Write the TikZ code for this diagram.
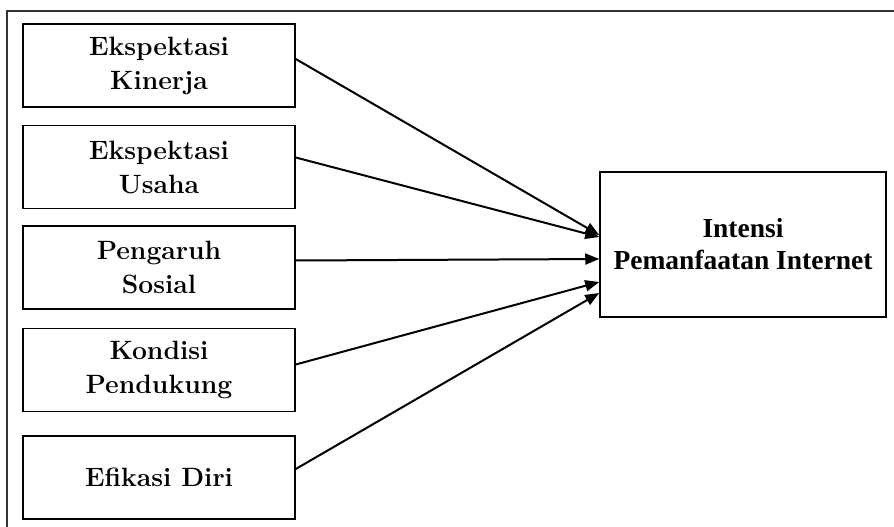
\documentclass[tikz,border=0pt]{standalone}
\usepackage{fontspec}
\newfontfamily\timesfont{Liberation Serif}
\usetikzlibrary{positioning,arrows.meta}

\begin{document}
\begin{tikzpicture}[x=1pt, y=-1pt, >={Triangle[length=14pt,width=11pt]}, line width=1.5pt]

    \tikzset{factor/.style={draw, text=black, align=center, minimum width=272pt, minimum height=83pt,
                            font=\fontsize{26.5}{34}\selectfont\bfseries},
             target/.style={draw, text=black, align=center, minimum width=286pt, minimum height=145pt,
                            font=\timesfont\fontsize{27.5}{32}\selectfont\bfseries},
             link/.style={->, line width=2pt}}

    \useasboundingbox (0,0) rectangle (894,527);
    \draw[line width=2.5pt, black!80] (7,11) rectangle (910,545);

    \node[factor] (EK) at (159,65.5) {Ekspektasi\\Kinerja};
    \node[factor] (EU) [below=17pt of EK] {Ekspektasi\\Usaha};
    \node[factor] (PS) [below=16pt of EU] {Pengaruh\\Sosial};
    \node[factor] (KP) [below=18pt of PS] {Kondisi\\Pendukung};
    \node[factor] (ED) [below=23pt of KP] {Efikasi Diri};
    \node[target] (IPI) at (743,244.5) {Intensi\\Pemanfaatan Internet};

    \draw[link] ([yshift=6.5pt]EK.east) -- ([yshift=9.5pt]IPI.west);
    \draw[link] ([yshift=9.5pt]EU.east) -- ([yshift=7.5pt]IPI.west);
    \draw[link] ([yshift=7pt]PS.east) -- ([yshift=-14.5pt]IPI.west);
    \draw[link] ([yshift=5.5pt]KP.east) -- ([yshift=-37.5pt]IPI.west);
    \draw[link] ([yshift=8.5pt]ED.east) -- ([yshift=-48.5pt]IPI.west);
\end{tikzpicture}
\end{document}
